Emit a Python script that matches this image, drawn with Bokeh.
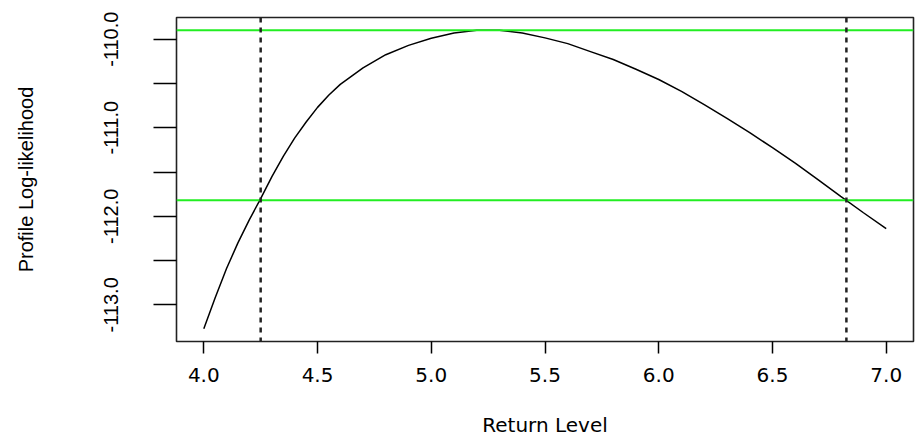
from bokeh.plotting import figure
from bokeh.models import Span, FixedTicker, Range1d
from bokeh.embed import file_html
from bokeh.resources import INLINE

# Profile log-likelihood curve for the return level
return_level = [4.0, 4.05, 4.1, 4.15, 4.2, 4.25, 4.3, 4.35, 4.4, 4.45, 4.5,
                4.55, 4.6, 4.7, 4.8, 4.9, 5.0, 5.1, 5.2, 5.3, 5.4, 5.5,
                5.6, 5.7, 5.8, 5.9, 6.0, 6.1, 6.2, 6.3, 6.4, 6.5, 6.6,
                6.7, 6.8, 6.9, 7.0]
profile_loglik = [-113.27, -112.92, -112.59, -112.30, -112.04, -111.80, -111.55,
                  -111.32, -111.115, -110.935, -110.77, -110.63, -110.51, -110.325,
                  -110.175, -110.07, -109.99, -109.93, -109.90, -109.90, -109.93,
                  -109.985, -110.05, -110.14, -110.23, -110.34, -110.455, -110.59,
                  -110.74, -110.895, -111.055, -111.225, -111.40, -111.585,
                  -111.775, -111.96, -112.14]

max_loglik = -109.90
ci_loglik = -111.82
ci_bounds = [4.25, 6.825]

x_ticks = [4.0, 4.5, 5.0, 5.5, 6.0, 6.5, 7.0]
x_tick_labels = ["4.0", "4.5", "5.0", "5.5", "6.0", "6.5", "7.0"]
y_ticks = [-110.0, -110.5, -111.0, -111.5, -112.0, -112.5, -113.0]
y_tick_labels = ["-110.0", "", "-111.0", "", "-112.0", "", "-113.0"]

p = figure(width=916, height=441, output_backend="svg", toolbar_location=None,
           x_range=Range1d(3.88, 7.12), y_range=Range1d(-113.414, -109.755),
           min_border_left=176, min_border_right=3, min_border_top=17,
           min_border_bottom=100)
p.background_fill_color = "white"
p.border_fill_color = "white"
p.grid.visible = False
p.outline_line_color = "#222222"
p.outline_line_width = 1.6

p.line(return_level, profile_loglik, line_color="black", line_width=1.5)

for yv in [max_loglik, ci_loglik]:
    p.add_layout(Span(location=yv, dimension="width", line_color="#22ee22",
                      line_width=2))
for xv in ci_bounds:
    p.add_layout(Span(location=xv, dimension="height", line_color="#222222",
                      line_width=2.5, line_dash="5 5"))

# x axis
xa = p.xaxis[0]
xa.ticker = FixedTicker(ticks=x_ticks)
xa.major_label_overrides = {t: l for t, l in zip(x_ticks, x_tick_labels)}
xa.axis_line_color = None
xa.major_tick_in = 0
xa.major_tick_out = 12
xa.major_tick_line_width = 1.5
xa.minor_tick_line_color = None
xa.major_label_text_font = "DejaVu Sans"
xa.major_label_text_font_size = "20px"
xa.major_label_text_color = "black"
xa.major_label_standoff = 14
xa.axis_label = "Return Level"
xa.axis_label_text_font = "DejaVu Sans"
xa.axis_label_text_font_size = "20px"
xa.axis_label_text_font_style = "normal"
xa.axis_label_text_color = "black"
xa.axis_label_standoff = 28

# y axis
ya = p.yaxis[0]
ya.ticker = FixedTicker(ticks=y_ticks)
ya.major_label_overrides = {t: l for t, l in zip(y_ticks, y_tick_labels)}
ya.axis_line_color = None
ya.major_tick_in = 0
ya.major_tick_out = 23
ya.major_tick_line_width = 1.5
ya.minor_tick_line_color = None
ya.major_label_orientation = "vertical"
ya.major_label_text_font = "Liberation Sans"
ya.major_label_text_font_size = "20px"
ya.major_label_text_color = "black"
ya.major_label_standoff = 35
ya.axis_label = "Profile Log-likelihood"
ya.axis_label_text_font = "Liberation Sans"
ya.axis_label_text_font_size = "20px"
ya.axis_label_text_font_style = "normal"
ya.axis_label_text_color = "black"
ya.axis_label_standoff = 65

open("out.html", "w").write(file_html(p, INLINE))
